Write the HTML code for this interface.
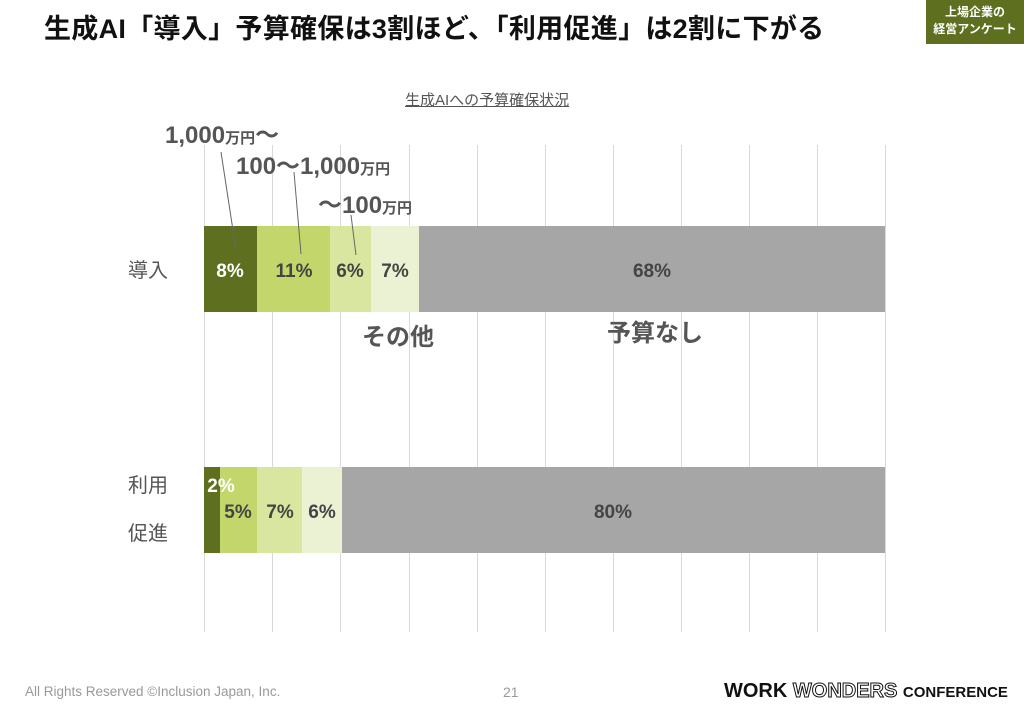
<!DOCTYPE html>
<html><head><meta charset="utf-8"><style>
body{margin:0;width:1024px;height:708px;background:#fff;position:relative;overflow:hidden;font-family:"Liberation Sans","Noto Sans CJK JP",sans-serif;}
.a{position:absolute;white-space:nowrap}
</style></head><body>
<div class="a" style="left:44px;top:7px;font-size:27px;font-weight:bold;color:#111;letter-spacing:0.3px">生成AI「導入」予算確保は3割ほど、「利用促進」は2割に下がる</div>
<div class="a" style="left:926px;top:0;width:98px;height:44px;background:#5e6f1f;color:#fff;font-size:12px;font-weight:bold;text-align:center;line-height:17px;padding-top:4px;box-sizing:border-box">上場企業の<br>経営アンケート</div>
<div class="a" style="left:405px;top:89px;font-size:15px;color:#555;text-decoration:underline">生成AIへの予算確保状況</div>
<svg class="a" style="left:0;top:0" width="1024" height="708">
<g stroke="#d9d9d9" stroke-width="1">
<line x1="204.5" y1="145" x2="204.5" y2="632"/><line x1="272.5" y1="145" x2="272.5" y2="632"/><line x1="340.5" y1="145" x2="340.5" y2="632"/><line x1="409.5" y1="145" x2="409.5" y2="632"/><line x1="477.5" y1="145" x2="477.5" y2="632"/><line x1="545.5" y1="145" x2="545.5" y2="632"/><line x1="613.5" y1="145" x2="613.5" y2="632"/><line x1="681.5" y1="145" x2="681.5" y2="632"/><line x1="749.5" y1="145" x2="749.5" y2="632"/><line x1="817.5" y1="145" x2="817.5" y2="632"/><line x1="885.5" y1="145" x2="885.5" y2="632"/>
</g>
<rect x="204" y="226" width="53" height="86" fill="#5e6f1f"/>
<rect x="257" y="226" width="73" height="86" fill="#c2d66b"/>
<rect x="330" y="226" width="41" height="86" fill="#d8e6a0"/>
<rect x="371" y="226" width="48" height="86" fill="#eaf2d3"/>
<rect x="419" y="226" width="466" height="86" fill="#a6a6a6"/>
<rect x="204" y="467" width="16" height="86" fill="#5e6f1f"/>
<rect x="220" y="467" width="37" height="86" fill="#c2d66b"/>
<rect x="257" y="467" width="45" height="86" fill="#d8e6a0"/>
<rect x="302" y="467" width="40" height="86" fill="#eaf2d3"/>
<rect x="342" y="467" width="543" height="86" fill="#a6a6a6"/>
<g stroke="#666" stroke-width="1">
<line x1="221" y1="152" x2="236" y2="250"/><line x1="294" y1="172" x2="301" y2="254"/><line x1="351" y1="215" x2="356" y2="255"/>
</g>
<g font-family="Liberation Sans,Noto Sans CJK JP,sans-serif" font-weight="bold" font-size="19" text-anchor="middle" fill="#444">
<text x="230" y="277" fill="#fff">8%</text><text x="294" y="277">11%</text><text x="350" y="277">6%</text><text x="395" y="277">7%</text><text x="652" y="277">68%</text>
<text x="221" y="492" fill="#fff">2%</text><text x="238" y="518">5%</text><text x="280" y="518">7%</text><text x="322" y="518">6%</text><text x="613" y="518">80%</text>
</g>
<g font-family="Liberation Sans,Noto Sans CJK JP,sans-serif" font-weight="bold" fill="#555">
<text x="165" y="143" font-size="24">1,000<tspan font-size="15">万円</tspan>～</text>
<text x="236" y="174" font-size="24">100～1,000<tspan font-size="15">万円</tspan></text>
<text x="318" y="213" font-size="24">～100<tspan font-size="15">万円</tspan></text>
<text x="362" y="345" font-size="24">その他</text>
<text x="607" y="341" font-size="24">予算なし</text>
</g>
<g font-family="Liberation Sans,Noto Sans CJK JP,sans-serif" font-size="20" fill="#555">
<text x="128" y="277">導入</text><text x="128" y="492">利用</text><text x="128" y="540">促進</text>
</g>
</svg>
<div class="a" style="left:25px;top:684px;font-size:13.5px;color:#999">All Rights Reserved ©Inclusion Japan, Inc.</div>
<div class="a" style="left:503px;top:684px;font-size:14px;color:#999">21</div>
<div class="a" style="left:724px;top:680px;font-size:20px;font-weight:bold;color:#111">WORK <span style="color:#fff;-webkit-text-stroke:1px #111">WONDERS</span> <span style="font-size:15px">CONFERENCE</span></div>
</body></html>
